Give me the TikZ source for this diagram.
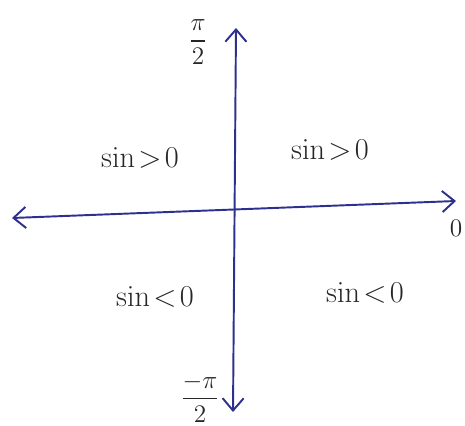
\documentclass[tikz,border=0pt]{standalone}
\usepackage{amsmath}
\usepackage{xcolor}
\usetikzlibrary{arrows.meta,positioning,calc}

\definecolor{penblue}{RGB}{45,48,140}

\begin{document}
\begin{tikzpicture}[
    x=0.02cm, y=-0.02cm,
    axis/.style={
        <->, >={Straight Barb[length=7pt,width=12pt]}, line width=1.1pt, penblue
    },
    lbl/.style={
        font=\LARGE, text=black!85, inner sep=1pt
    },
    tick/.style={
        font=\Large, text=black!85, inner sep=1pt
    }
]
\useasboundingbox (0,0) rectangle (465,425);

% === Axis ends ===
\coordinate (W) at (12,218);
\coordinate (E) at (456,201);
\coordinate (N) at (236,28);
\coordinate (S) at (233,412);

% === Axes ===
\draw[axis] (W) -- (E);
\draw[axis] (S) -- (N);

% === Axis labels ===
\node[tick] (top)   at (198,42)  {$\dfrac{\pi}{2}$};
\node[tick] (bot)   at (200,398) {$\dfrac{-\pi}{2}$};
\node[tick] (zero)  at (456,228) {$0$};

% === Quadrant labels ===
\node[lbl] (q2) at (140,158) {$\sin\!>\!0$};
\node[lbl] (q1) at (330,150) {$\sin\!>\!0$};
\node[lbl] (q3) at (155,297) {$\sin\!<\!0$};
\node[lbl] (q4) at (365,293) {$\sin\!<\!0$};

\end{tikzpicture}
\end{document}
